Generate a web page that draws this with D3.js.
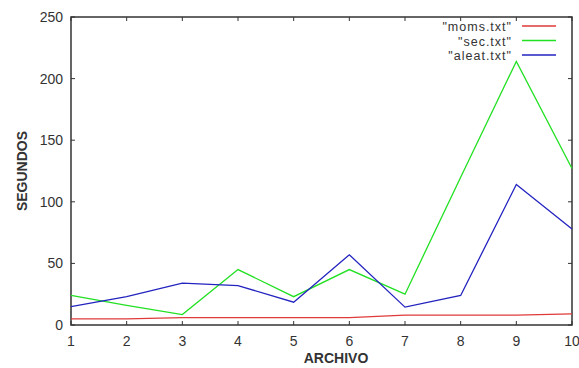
<!DOCTYPE html>
<html>
<head>
<meta charset="utf-8">
<script src="https://cdn.jsdelivr.net/npm/d3@7"></script>
<style>
  body { margin: 0; background: #fff; }
  svg text { font-family: "Liberation Sans", Arial, sans-serif; fill: #333; }
</style>
</head>
<body>
<div id="chart"></div>
<script>
const archivos = [1, 2, 3, 4, 5, 6, 7, 8, 9, 10];
const moms = [5, 5, 6, 6, 6, 6, 8, 8, 8, 9];
const sec = [24, 16, 8.5, 45, 23, 45, 25, 120, 214, 127];
const aleat = [15, 23, 34, 32, 18.5, 57, 14.5, 24, 114, 78];
const yTicks = [0, 50, 100, 150, 200, 250];

const series = [
  { name: '"moms.txt"', values: moms, color: '#e03a3a' },
  { name: '"sec.txt"', values: sec, color: '#22e022' },
  { name: '"aleat.txt"', values: aleat, color: '#2323c0' }
];

const W = 579, H = 368;
const margin = { top: 17, right: 7, bottom: 43, left: 71 };

const svg = d3.select('#chart').append('svg')
  .attr('width', W).attr('height', H);

const x = d3.scaleLinear().domain([1, 10]).range([margin.left, W - margin.right]);
const y = d3.scaleLinear().domain([0, 250]).range([H - margin.bottom, margin.top]);

const axisColor = '#333';

// frame
svg.append('rect')
  .attr('x', x(1)).attr('y', y(250))
  .attr('width', x(10) - x(1)).attr('height', y(0) - y(250))
  .attr('fill', 'none').attr('stroke', axisColor).attr('stroke-width', 1.5);

// inward ticks, mirrored on top/right
const tickLen = 4;
svg.append('g').selectAll('line').data(archivos).join('line')
  .attr('x1', d => x(d)).attr('x2', d => x(d))
  .attr('y1', y(0)).attr('y2', y(0) - tickLen)
  .attr('stroke', axisColor);
svg.append('g').selectAll('line').data(archivos).join('line')
  .attr('x1', d => x(d)).attr('x2', d => x(d))
  .attr('y1', y(250)).attr('y2', y(250) + tickLen)
  .attr('stroke', axisColor);
svg.append('g').selectAll('line').data(yTicks).join('line')
  .attr('x1', x(1)).attr('x2', x(1) + tickLen)
  .attr('y1', d => y(d)).attr('y2', d => y(d))
  .attr('stroke', axisColor);
svg.append('g').selectAll('line').data(yTicks).join('line')
  .attr('x1', x(10)).attr('x2', x(10) - tickLen)
  .attr('y1', d => y(d)).attr('y2', d => y(d))
  .attr('stroke', axisColor);

// tick labels
svg.append('g').selectAll('text').data(archivos).join('text')
  .attr('x', d => x(d)).attr('y', y(0) + 21)
  .attr('text-anchor', 'middle').attr('font-size', 14)
  .text(d => d);
svg.append('g').selectAll('text').data(yTicks).join('text')
  .attr('x', x(1) - 8).attr('y', d => y(d) + 5)
  .attr('text-anchor', 'end').attr('font-size', 14)
  .text(d => d);

// axis titles
svg.append('text')
  .attr('x', 336).attr('y', 363)
  .attr('text-anchor', 'middle').attr('font-size', 14).attr('font-weight', 'bold')
  .text('ARCHIVO');
svg.append('text')
  .attr('transform', `translate(27,${(y(0) + y(250)) / 2}) rotate(-90)`)
  .attr('text-anchor', 'middle').attr('font-size', 14).attr('font-weight', 'bold')
  .text('SEGUNDOS');

// lines
const line = d3.line().x((d, i) => x(archivos[i])).y(d => y(d));
svg.append('g').selectAll('path').data(series).join('path')
  .attr('d', d => line(d.values))
  .attr('fill', 'none')
  .attr('stroke', d => d.color)
  .attr('stroke-width', 1.3);

// legend
const legend = svg.append('g').selectAll('g').data(series).join('g')
  .attr('transform', (d, i) => `translate(0,${26 + i * 14.5})`);
legend.append('text')
  .attr('x', 512).attr('y', 5)
  .attr('text-anchor', 'end').attr('font-size', 12.5).attr('letter-spacing', 1)
  .text(d => d.name);
legend.append('line')
  .attr('x1', 522).attr('x2', 556)
  .attr('stroke', d => d.color).attr('stroke-width', 1.3);
</script>
</body>
</html>
